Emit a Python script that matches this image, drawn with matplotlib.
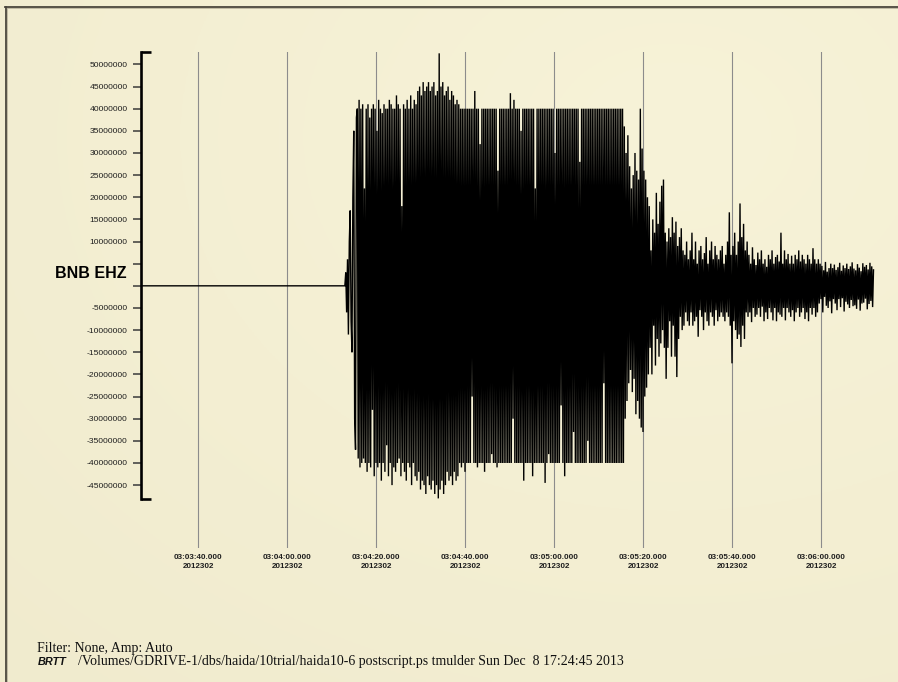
import matplotlib
matplotlib.use("Agg")
import matplotlib.pyplot as plt
from matplotlib.lines import Line2D
import numpy as np

# BNB EHZ vertical component, counts in units of 1e6, one sample every 0.2 s
# (the strong motion clips at +/-40e6 counts)
onset = [0, 3, -6, 6, -11, 10, 17, -8, -15, 20,
         35, -30, -37, 38, 40, -39, 42]

strong_a = [-41, 40, -40, 41, -39, 22, -40, 40, -42, 41,
            -40, 38, -41, 40, -28, 41, -43, 40, -40, 35,
            -41, 42, -40, 40, -44, 39, -40, 41, -42, 40,
            -36, 40, -43, 42, -40, 41, -45, 40, -41, 40,
            -42, 43, -40, 41, -39, 40, -43, 18, -40, 41,
            -42, 40, -44, 42, -40, 40, -41, 43, -45, 40,
            -40, 42, -43, 41]

strong_peak = [-44, 44, -42, 45, -46, 43, -44, 46, -45, 44,
               -47, 45, -43, 46, -45, 44, -46, 45, -44, 46,
               -47, 43, -45, 44, -48, 52.5, -46, 45, -44, 46,
               -47, 43, -45, 44, -42, 45, -44, 42, -43, 44,
               -45, 43, -42, 41, -44, 42, -43, 41]

clipped = [-40, 40, -41, 40, -40, 40, -42, 40, -40, 40,
           -40, 40, -40, 40, -25, 40, -40, 44, -40, 40,
           -41, 40, -40, 32, -40, 40, -40, 40, -42, 40,
           -40, 40, -40, 40, -40, 40, -38, 40, -40, 40,
           -40, 40, -41, 26, -40, 40, -40, 40, -40, 40,
           -40, 40, -40, 40, -40, 40, -40, 43.5, -40, 40,
           -30, 42, -40, 40, -40, 40, -40, 40, -40, 35,
           -40, 40, -44, 40, -40, 40, -40, 40, -40, 40,
           -40, 40, -43, 40, -40, 22, -40, 40, -40, 40,
           -40, 40, -40, 40, -40, 40, -44.5, 40, -40, 40,
           -38, 40, -40, 40, -40, 40, -40, 30, -40, 40,
           -40, 40, -40, 40, -27, 40, -40, 40, -43, 40,
           -40, 40, -40, 40, -40, 40, -40, 40, -33, 40,
           -40, 40, -40, 40, -40, 28, -40, 40, -40, 40,
           -40, 40, -40, 40, -35, 40, -40, 40, -40, 40,
           -40, 40, -40, 40, -40, 40, -40, 40, -40, 40,
           -40, 40, -22, 40, -40, 40, -40, 40, -40, 40,
           -40, 40, -40, 40, -40, 40, -40, 40, -40, 40,
           -40, 40, -40, 40, -40]

decay = [36, -30, 30, -26, 34, -22, 27, -19, 22, -24,
         25, -21, 30, -29, 26, -26, 24, -30, 40, -32,
         31, -33, 26, -25, 24, -23, 20, -20]

coda_a = [18, -14, 8, -20, 15, -9, 12, -18, 21, -12,
          14, -16, 19, -13, 22.6, -10, 24, -14, 12, -21,
          10, -14, 13, -8, 11, -16, 15.5, -9, 12, -16,
          14.5, -20.6, 9, -12, 11, -7, 13, -10, 8, -9,
          7, -6, 10, -8, 6, -9, 8, -6, 12, -9,
          6, -8, 10, -7, 5, -11.5, 8, -5.5, 9, -7,
          6, -10, 7.4, -6, 11, -8, 5, -9, 8, -6,
          10, -7, 6, -9, 9, -5.5, 7, -8, 6, -7,
          8, -6, 9, -7, 5, -8, 7, -6, 10, -7]

coda_burst = [16.6, -9, 7, -17.5, 9, -8, 12, -10, 7, -12,
              10, -11, 18.6, -13.8, 11, -9, 14, -12, 8, -6,
              10, -7]

coda_b = [7, -6, 5, -8.2, 8.7, -5, 6, -7, 4.7, -6.5,
          7.5, -5, 6, -7, 8, -4.7, 5, -8, 6, -6,
          4.3, -7.5, 7, -5, 6, -6, 8, -7.8, 5, -5,
          6.5, -8, 7, -6, 5.5, -6.5, 12, -7, 5, -5,
          8, -7.8, 6, -5, 7.2, -6, 5, -7, 6.8, -5.5,
          5, -8, 7, -6, 6, -5, 8, -7, 5.5, -6,
          7, -5, 6, -7.5, 5, -6, 7, -8, 6, -5,
          5, -6.5, 8.5, -5, 6, -7, 5, -6, 6]

coda_tail = [-4, 5, -3, 4.5, -6, 3.5, -2.5, 5.4, -4.5, 3.2,
             -5, 4, -3.5, 5, -6.2, 4, -3, 4.8, -4, 3.6,
             -5.5, 4.2, -3, 5.2, -4.8, 3.4, -2.8, 4.6, -5.8, 4,
             -3.6, 5, -4.2, 3.8, -5, 4.4, -3.2, 5.3, -4.6, 3.9,
             -4.4, 3.5, -5.2, 4.9, -3.1, 4.1, -5.6, 3.3, -4, 5.1,
             -3.8, 4.3, -2.9, 4.7, -5.3, 3.7, -4.1, 5.2, -3.4, 4.4,
             -4.8, 3.6]

amp_scale = 1e6
onset_sec = 73.0      # seconds after 03:03:00
sample_dt = 0.2

tick_secs = [40, 60, 80, 100, 120, 140, 160, 180]
tick_labels = ["03:03:40.000\n2012302", "03:04:00.000\n2012302",
               "03:04:20.000\n2012302", "03:04:40.000\n2012302",
               "03:05:00.000\n2012302", "03:05:20.000\n2012302",
               "03:05:40.000\n2012302", "03:06:00.000\n2012302"]

ytick_vals = [-45, -40, -35, -30, -25, -20, -15, -10, -5, 0,
              5, 10, 15, 20, 25, 30, 35, 40, 45, 50]
ytick_text = ["-45000000", "-40000000", "-35000000", "-30000000", "-25000000",
              "-20000000", "-15000000", "-10000000", "-5000000", "",
              "", "10000000", "15000000", "20000000", "25000000",
              "30000000", "35000000", "40000000", "45000000", "50000000"]

samples = np.concatenate([onset, strong_a, strong_peak, clipped, decay,
                          coda_a, coda_burst, coda_b, coda_tail]) * amp_scale
times = onset_sec + sample_dt * np.arange(len(samples))

W, H = 898, 682
fig = plt.figure(figsize=(W / 100, H / 100), dpi=100)

# parchment backdrop: darker toward the upper left
bg = fig.add_axes([0, 0, 1, 1], zorder=-2)
gx, gy = np.meshgrid(np.linspace(0, 1, 300), np.linspace(0, 1, 230))
shade = np.clip(1.0 - 0.5 * np.hypot(gx - 0.75, gy - 0.8) / 1.1, 0, 1)
base_dark = np.array([234, 227, 196]) / 255
base_light = np.array([247, 243, 216]) / 255
img = base_dark + (base_light - base_dark) * shade[..., None]
bg.imshow(img, aspect="auto", extent=[0, 1, 0, 1], origin="lower")
bg.set_axis_off()

# inset frame along top and left edges
fig.add_artist(Line2D([5 / W, 1], [1 - 6.5 / H, 1 - 6.5 / H], color="#4a463c", lw=1.3))
fig.add_artist(Line2D([5.5 / W, 5.5 / W], [0, 1 - 6.5 / H], color="#4a463c", lw=1.3))
fig.add_artist(Line2D([7 / W, 1], [1 - 8 / H, 1 - 8 / H], color="#b9b39c", lw=0.6))
fig.add_artist(Line2D([7 / W, 7 / W], [0, 1 - 8 / H], color="#b9b39c", lw=0.6))

left, right, top, bottom = 141, 876, 52, 548
ax = fig.add_axes([left / W, 1 - bottom / H, (right - left) / W, (bottom - top) / H])
ax.patch.set_alpha(0)

x_min, x_max = 27.19, 192.36
y_min, y_max = -59.2e6, 52.8e6
ax.set_xlim(x_min, x_max)
ax.set_ylim(y_min, y_max)

ax.plot(np.r_[x_min, times], np.r_[0, samples], color="black", lw=1.0,
        solid_joinstyle="miter", zorder=3)

for s in ["top", "right", "bottom"]:
    ax.spines[s].set_visible(False)
ax.spines["left"].set_linewidth(1.9)
ax.spines["left"].set_bounds(-48.1e6, y_max)
ax.spines["left"].set_zorder(4)
cap = 10 / (right - left) * (x_max - x_min)
for yv in (-48.1e6, y_max):
    ax.plot([x_min, x_min + cap], [yv, yv], color="black", lw=1.9,
            solid_capstyle="butt", clip_on=False, zorder=4)

ax.set_yticks(np.array(ytick_vals) * amp_scale)
ax.set_yticklabels(ytick_text)
ax.tick_params(axis="y", length=6, width=1.1, color="#3a3a3a", pad=3.5,
               labelsize=6.1, labelcolor="#1e1e1e")
for lab in ax.get_yticklabels():
    lab.set_family("Liberation Sans")

ax.set_xticks(tick_secs)
ax.set_xticklabels(tick_labels)
ax.tick_params(axis="x", length=0, pad=4.5)
for lab in ax.get_xticklabels():
    lab.set_family("Liberation Sans")
    lab.set_fontweight("bold")
    lab.set_fontsize(5.8)
    lab.set_color("#1e1e1e")
    lab.set_linespacing(1.25)

ax.xaxis.grid(True, color="#8c8c8c", lw=0.8)
ax.set_axisbelow(True)

fig.text(127 / W, 1 - 274 / H, "BNB EHZ", ha="right", va="center",
         family="Liberation Sans", fontweight="bold", fontsize=11.5, color="black")

fig.text(37 / W, 1 - 652 / H, "Filter: None, Amp: Auto", ha="left", va="baseline",
         family="Liberation Serif", fontsize=10, color="#111111")
fig.text(38 / W, 1 - 665 / H, "BRTT", ha="left", va="baseline",
         family="Liberation Sans", fontweight="bold", style="italic",
         fontsize=7.8, color="#111111")
fig.text(78 / W, 1 - 665 / H,
         "/Volumes/GDRIVE-1/dbs/haida/10trial/haida10-6 postscript.ps tmulder Sun Dec  8 17:24:45 2013",
         ha="left", va="baseline", family="Liberation Serif", fontsize=10, color="#111111")

fig.savefig("out.png", dpi=100)
